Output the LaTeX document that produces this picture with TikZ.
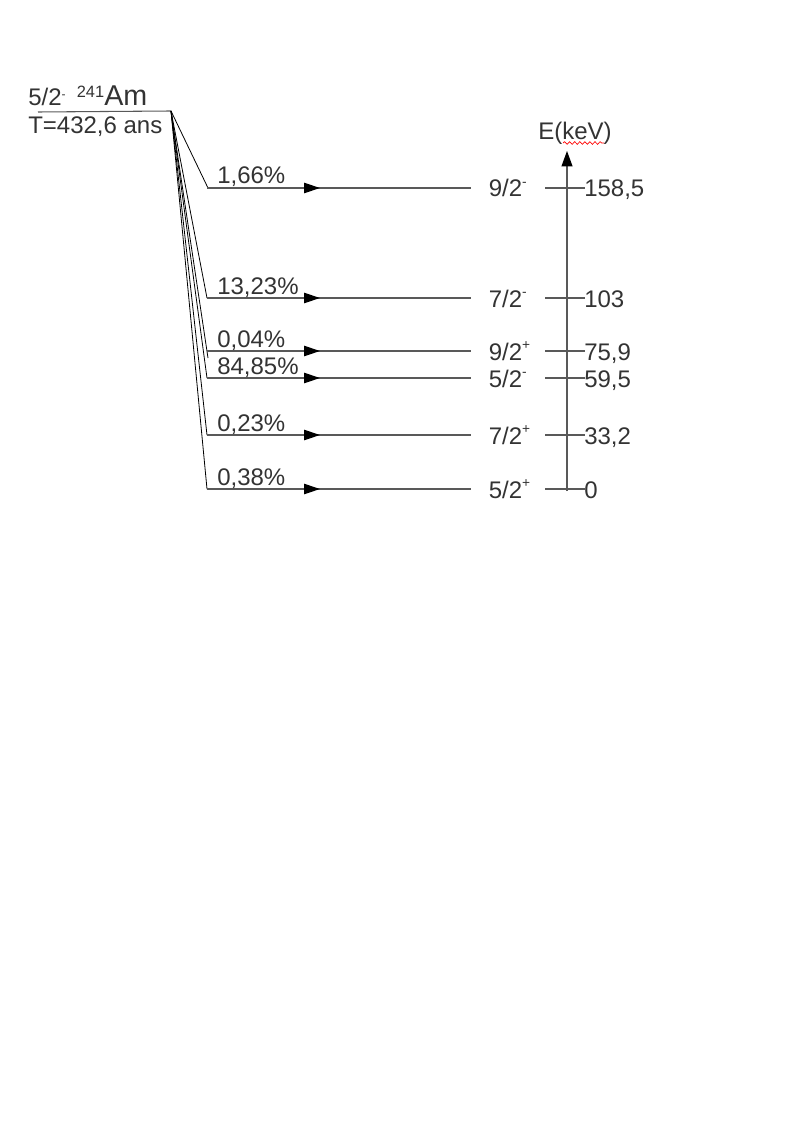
\documentclass[tikz,border=0pt]{standalone}
\usepackage{fontspec}
\setmainfont{Liberation Sans}
\usetikzlibrary{arrows.meta,decorations.pathmorphing}
\newcommand\upmark[1]{\raisebox{7.7pt}{\fontsize{10.3}{10}\selectfont #1}}
\begin{document}
\begin{tikzpicture}[x=0.75pt,y=-0.75pt,
  txt/.style={inner sep=0pt, text=black!80, font=\fontsize{18}{21}\selectfont},
  lvl/.style={draw=black!65, line width=0.8pt},
  fan/.style={draw=black, line width=0.6pt},
  arr/.style={-{Triangle[length=12pt,width=7.8pt,color=black]}},
  axisarr/.style={-{Triangle[length=11.5pt,width=8.2pt,color=black]}},
  squiggle/.style={draw=red, line width=0.5pt, decorate,
    decoration={snake, amplitude=1pt, segment length=3.8pt}}
]
\useasboundingbox (0,0) rectangle (794,1123);

% parent level
\node[txt, anchor=base west] (hdrA) at (28,106) {5/2\raisebox{5.5pt}{\fontsize{9}{9}\selectfont -}};
\node[txt, anchor=base west, font=\fontsize{12.3}{14}\selectfont] (hdrB) at (76.5,98) {241};
\node[txt, anchor=base west, font=\fontsize{21.5}{24}\selectfont] (hdrC) at (104,106) {Am};
\node[txt, anchor=base west] (hdrT) at (28,134) {T=432,6 ans};
\coordinate (hl) at (38,112);
\coordinate (src) at (171,111);
\draw[lvl] (hl) -- (src);

% energy axis
\coordinate (axb) at (567,491);
\coordinate (axt) at (567,151);
\draw[lvl, axisarr] (axb) -- (axt);
\node[txt, anchor=base west] (elab) at (538,140) {E(keV)};
\coordinate (sqa) at (563,143);
\coordinate (sqb) at (604,143);
\draw[squiggle] (sqa) -- (sqb);

% levels: name / y / spin label / energy / branching / fan end x / fan end y
\foreach \n/\y/\spin/\en/\pc/\fx/\fy in {
  a/188/{9/2\upmark{-}}/{158,5}/{1,66\%}/208/188,
  b/298/{7/2\upmark{-}}/{103}/{13,23\%}/207/298,
  c/351/{9/2\upmark{+}}/{75,9}/{0,04\%}/208/358,
  d/378/{5/2\upmark{-}}/{59,5}/{84,85\%}/207/378,
  e/435/{7/2\upmark{+}}/{33,2}/{0,23\%}/207/435,
  f/489/{5/2\upmark{+}}/{0}/{0,38\%}/207/489}{
  \coordinate (s\n) at (207,\y);
  \coordinate (m\n) at (320,\y);
  \coordinate (e\n) at (471,\y);
  \coordinate (f\n) at (\fx,\fy);
  \coordinate (ta\n) at (545,\y);
  \coordinate (tb\n) at (585,\y);
  \draw[fan] (src) -- (f\n);
  \draw[lvl] (s\n) -- (e\n);
  \draw[lvl, arr] (s\n) -- (m\n);
  \draw[lvl] (ta\n) -- (tb\n);
  \node[txt, anchor=base west] (p\n) at (217,\y-4) {\pc};
  \node[txt, anchor=base west] (j\n) at (488.5,\y+9) {\spin};
  \node[txt, anchor=base west] (en\n) at (584,\y+9) {\en};
}
\end{tikzpicture}
\end{document}
